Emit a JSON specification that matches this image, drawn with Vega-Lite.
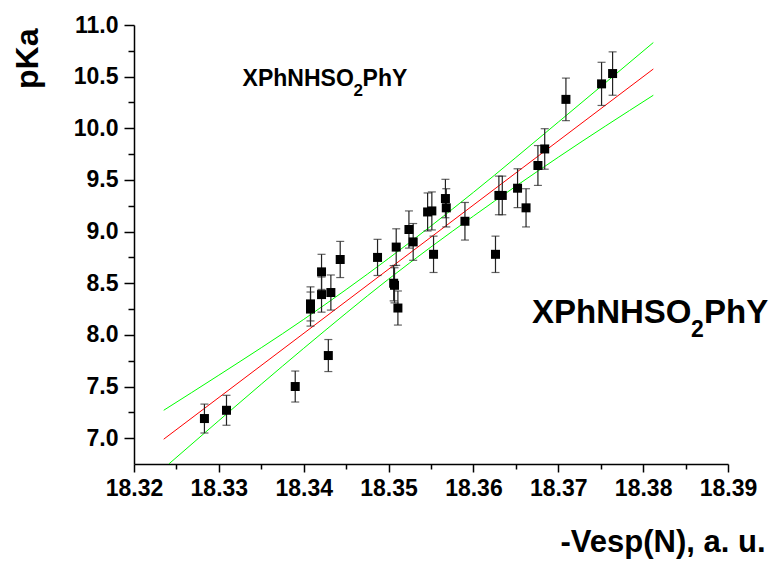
{
  "$schema": "https://vega.github.io/schema/vega-lite/v6.json",
  "width": 594,
  "height": 439,
  "autosize": {"type": "none"},
  "padding": {"left": 134, "top": 25, "right": 49, "bottom": 97},
  "background": "white",
  "config": {
    "view": {"stroke": null},
    "font": "Liberation Sans",
    "axis": {
      "grid": false,
      "domainColor": "black",
      "domainWidth": 1.5,
      "tickColor": "black",
      "tickWidth": 1.5,
      "labelFlush": false,
      "labelFont": "Liberation Sans",
      "labelFontWeight": "bold",
      "labelFontSize": 23,
      "labelColor": "black",
      "titleFont": "Liberation Sans",
      "titleFontWeight": "bold",
      "titleColor": "black"
    },
    "text": {"font": "Liberation Sans", "fontWeight": "bold", "color": "black", "align": "left", "baseline": "alphabetic"}
  },
  "datasets": {
    "measured": [
      {"x": 18.3283, "y": 7.19, "err": 0.14},
      {"x": 18.3309, "y": 7.27, "err": 0.145},
      {"x": 18.3390, "y": 7.50, "err": 0.15},
      {"x": 18.3429, "y": 7.80, "err": 0.155},
      {"x": 18.3408, "y": 8.30, "err": 0.165},
      {"x": 18.3408, "y": 8.25, "err": 0.165},
      {"x": 18.3421, "y": 8.61, "err": 0.17},
      {"x": 18.3421, "y": 8.39, "err": 0.17},
      {"x": 18.3432, "y": 8.41, "err": 0.17},
      {"x": 18.3443, "y": 8.73, "err": 0.175},
      {"x": 18.3487, "y": 8.75, "err": 0.175},
      {"x": 18.3506, "y": 8.50, "err": 0.17},
      {"x": 18.3507, "y": 8.48, "err": 0.17},
      {"x": 18.3511, "y": 8.26, "err": 0.165},
      {"x": 18.3509, "y": 8.85, "err": 0.177},
      {"x": 18.3524, "y": 9.02, "err": 0.18},
      {"x": 18.3529, "y": 8.90, "err": 0.178},
      {"x": 18.3546, "y": 9.19, "err": 0.184},
      {"x": 18.3551, "y": 9.20, "err": 0.184},
      {"x": 18.3553, "y": 8.78, "err": 0.176},
      {"x": 18.3567, "y": 9.32, "err": 0.186},
      {"x": 18.3568, "y": 9.23, "err": 0.185},
      {"x": 18.3590, "y": 9.10, "err": 0.182},
      {"x": 18.3626, "y": 8.78, "err": 0.176},
      {"x": 18.3630, "y": 9.35, "err": 0.187},
      {"x": 18.3634, "y": 9.35, "err": 0.187},
      {"x": 18.3652, "y": 9.42, "err": 0.188},
      {"x": 18.3662, "y": 9.23, "err": 0.185},
      {"x": 18.3676, "y": 9.64, "err": 0.193},
      {"x": 18.3684, "y": 9.80, "err": 0.196},
      {"x": 18.3709, "y": 10.28, "err": 0.206},
      {"x": 18.3751, "y": 10.43, "err": 0.209},
      {"x": 18.3764, "y": 10.53, "err": 0.21}
    ],
    "fit": [
      {"x": 18.3235, "y": 6.99},
      {"x": 18.3812, "y": 10.574}
    ],
    "upper": [
      {"x": 18.3235, "y": 7.27},
      {"x": 18.33, "y": 7.61},
      {"x": 18.34, "y": 8.15},
      {"x": 18.35, "y": 8.74},
      {"x": 18.36, "y": 9.38},
      {"x": 18.37, "y": 10.06},
      {"x": 18.3812, "y": 10.83}
    ],
    "lower": [
      {"x": 18.3241, "y": 6.75},
      {"x": 18.33, "y": 7.17},
      {"x": 18.34, "y": 7.87},
      {"x": 18.35, "y": 8.54},
      {"x": 18.36, "y": 9.15},
      {"x": 18.37, "y": 9.72},
      {"x": 18.3812, "y": 10.32}
    ],
    "minor": [
      {"x": 18.325, "y": 7.25}
    ],
    "labels": [
      {"x": 18.3328, "y": 10.414, "label": "XPhNHSO", "box": "top", "part": "head"},
      {"x": 18.3328, "y": 10.414, "label": "2", "box": "top", "part": "sub"},
      {"x": 18.3328, "y": 10.414, "label": "PhY", "box": "top", "part": "tail"},
      {"x": 18.3669, "y": 8.114, "label": "XPhNHSO", "box": "side", "part": "head"},
      {"x": 18.3669, "y": 8.114, "label": "2", "box": "side", "part": "sub"},
      {"x": 18.3669, "y": 8.114, "label": "PhY", "box": "side", "part": "tail"}
    ]
  },
  "encoding": {
    "x": {"field": "x", "type": "quantitative", "scale": {"domain": [18.32, 18.39], "nice": false, "zero": false}, "axis": null},
    "y": {"field": "y", "type": "quantitative", "scale": {"domain": [6.75, 11.0], "nice": false, "zero": false}, "axis": null}
  },
  "layer": [
    {
      "data": {"name": "minor"},
      "mark": {"type": "point", "opacity": 0},
      "encoding": {
        "x": {"field": "x", "type": "quantitative", "axis": {
          "values": [18.325, 18.335, 18.345, 18.355, 18.365, 18.375, 18.385],
          "labels": false, "domain": false, "tickSize": 5, "title": null, "orient": "bottom"}},
        "y": {"field": "y", "type": "quantitative", "axis": {
          "values": [7.25, 7.75, 8.25, 8.75, 9.25, 9.75, 10.25, 10.75],
          "labels": false, "domain": false, "tickSize": 6, "title": null, "orient": "left"}}
      }
    },
    {
      "data": {"name": "upper"},
      "mark": {"type": "line", "color": "#00ff00", "strokeWidth": 1, "interpolate": "monotone", "clip": true},
      "encoding": {
        "x": {"field": "x", "type": "quantitative", "axis": {
          "values": [18.32, 18.33, 18.34, 18.35, 18.36, 18.37, 18.38, 18.39],
          "format": ".2f", "tickSize": 8, "labelPadding": 5, "orient": "bottom",
          "title": "-Vesp(N), a. u.", "titleFontSize": 31, "titleAnchor": "end",
          "titleAlign": "right", "titleBaseline": "alphabetic", "titleX": 631, "titleY": 87}},
        "y": {"field": "y", "type": "quantitative", "axis": {
          "values": [7.0, 7.5, 8.0, 8.5, 9.0, 9.5, 10.0, 10.5, 11.0],
          "format": ".1f", "tickSize": 10, "labelPadding": 6, "orient": "left",
          "title": "pKa", "titleFontSize": 32, "titleAngle": -90, "titleAnchor": "end",
          "titleAlign": "right", "titleBaseline": "alphabetic", "titleX": -97, "titleY": 3}}
      }
    },
    {
      "data": {"name": "lower"},
      "mark": {"type": "line", "color": "#00ff00", "strokeWidth": 1, "interpolate": "monotone", "clip": true},
      "encoding": {}
    },
    {
      "data": {"name": "fit"},
      "mark": {"type": "line", "color": "#ff0000", "strokeWidth": 1, "clip": true},
      "encoding": {}
    },
    {
      "data": {"name": "measured"},
      "mark": {"type": "errorbar", "ticks": {"size": 8, "thickness": 1.2}, "color": "#222222", "thickness": 1.2},
      "encoding": {
        "yError": {"field": "err"}
      }
    },
    {
      "data": {"name": "measured"},
      "mark": {"type": "point", "shape": "square", "filled": true, "size": 81, "color": "black", "opacity": 1},
      "encoding": {}
    },
    {
      "data": {"name": "labels"},
      "transform": [{"filter": "datum.box === 'top' && datum.part === 'head'"}],
      "mark": {"type": "text", "fontSize": 23},
      "encoding": {"text": {"field": "label"}}
    },
    {
      "data": {"name": "labels"},
      "transform": [{"filter": "datum.box === 'top' && datum.part === 'sub'"}],
      "mark": {"type": "text", "fontSize": 17, "dx": 111, "dy": 10},
      "encoding": {"text": {"field": "label"}}
    },
    {
      "data": {"name": "labels"},
      "transform": [{"filter": "datum.box === 'top' && datum.part === 'tail'"}],
      "mark": {"type": "text", "fontSize": 23, "dx": 120},
      "encoding": {"text": {"field": "label"}}
    },
    {
      "data": {"name": "labels"},
      "transform": [{"filter": "datum.box === 'side' && datum.part === 'head'"}],
      "mark": {"type": "text", "fontSize": 33},
      "encoding": {"text": {"field": "label"}}
    },
    {
      "data": {"name": "labels"},
      "transform": [{"filter": "datum.box === 'side' && datum.part === 'sub'"}],
      "mark": {"type": "text", "fontSize": 23, "dx": 159, "dy": 14},
      "encoding": {"text": {"field": "label"}}
    },
    {
      "data": {"name": "labels"},
      "transform": [{"filter": "datum.box === 'side' && datum.part === 'tail'"}],
      "mark": {"type": "text", "fontSize": 33, "dx": 172},
      "encoding": {"text": {"field": "label"}}
    }
  ],
  "resolve": {"axis": {"x": "independent", "y": "independent"}}
}
